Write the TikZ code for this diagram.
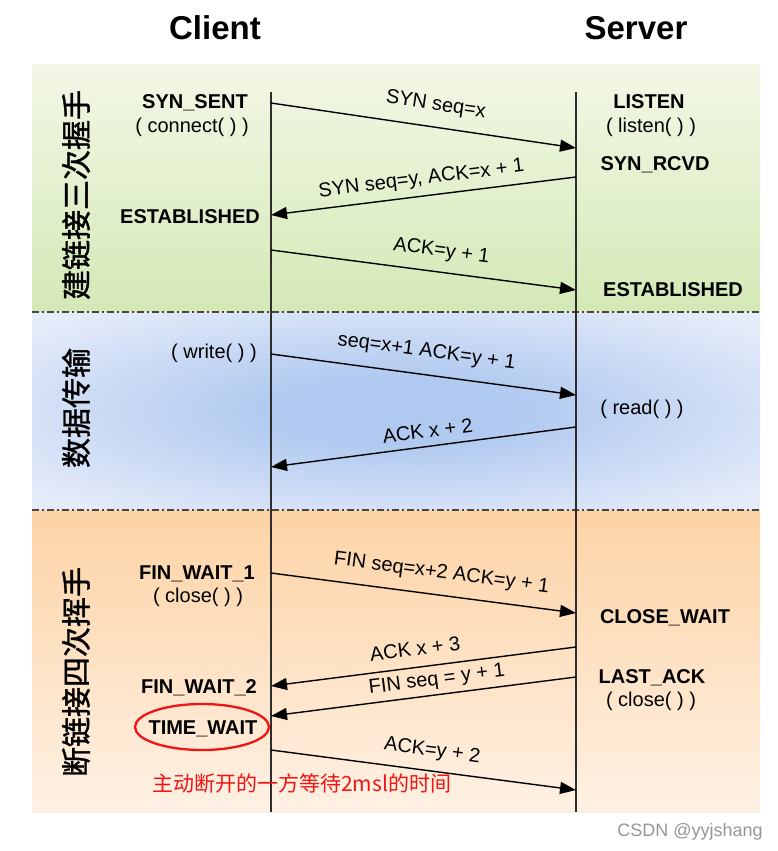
\documentclass[tikz,border=0pt]{standalone}
\usepackage{fontspec}
\setmainfont{Liberation Sans}
\newfontfamily\cjk{Noto Sans CJK SC}
\newfontfamily\cjkm[FakeBold=1.3]{Noto Sans CJK SC}
\usetikzlibrary{arrows.meta}
\definecolor{gtop}{RGB}{243,247,230}
\definecolor{gbot}{RGB}{212,233,182}
\definecolor{bin}{RGB}{176,201,240}
\definecolor{bout}{RGB}{228,235,249}
\definecolor{otop}{RGB}{253,211,165}
\definecolor{obot}{RGB}{254,241,228}
\definecolor{lifec}{RGB}{45,45,45}
\definecolor{sepc}{RGB}{70,70,70}
\definecolor{wm}{RGB}{150,150,150}
\definecolor{redc}{RGB}{240,20,20}
\pgfdeclareradialshading{bluerad}{\pgfpoint{0bp}{0bp}}{color(0bp)=(bin); color(8bp)=(bin); color(32bp)=(bout); color(50bp)=(bout)}
\tikzset{
  title/.style={font=\fontsize{33}{38}\selectfont\bfseries, inner sep=0pt},
  st/.style={font=\fontsize{20}{24}\selectfont\bfseries, inner sep=0pt, text height=14.3pt, text depth=0pt},
  fn/.style={font=\fontsize{20}{24}\selectfont, inner sep=0pt, text height=14.3pt, text depth=0pt},
  lab/.style={font=\fontsize{20}{24}\selectfont, inner sep=0pt, text height=14.5pt, text depth=4pt, sloped},
  msg/.style={line width=1.4pt, black, -{Triangle[length=16pt, width=12pt]}},
  lifeline/.style={line width=1.5pt, lifec},
  sep/.style={line width=1.3pt, sepc, dash pattern=on 7pt off 3pt on 2pt off 3pt},
  phase/.style={font=\cjkm\fontsize{30}{34}\selectfont, rotate=90, inner sep=0pt},
  redring/.style={draw=redc, line width=2.3pt},
}
\begin{document}
\begin{tikzpicture}[x=1pt, y=-1pt]
\path[use as bounding box, fill=white] (0,0) rectangle (778,851);
% bands
\shade[top color=gtop, bottom color=gbot] (32,65) rectangle (760,312);
\shade[shading=bluerad] (32,312) rectangle (760,510);
\shade[top color=otop, bottom color=obot] (32,510) rectangle (760,812);
% separators
\coordinate (sepAl) at (32,312); \coordinate (sepAr) at (760,312);
\coordinate (sepBl) at (32,510); \coordinate (sepBr) at (760,510);
\draw[sep] (sepAl) -- (sepAr);
\draw[sep] (sepBl) -- (sepBr);
% titles
\node[title] (client) at (215,28) {Client};
\node[title] (server) at (636,28) {Server};
% lifelines
\coordinate (ctop) at (271,92); \coordinate (cbot) at (271,812);
\coordinate (stop) at (576,92); \coordinate (sbot) at (576,812);
\draw[lifeline] (ctop) -- (cbot);
\draw[lifeline] (stop) -- (sbot);
% phase labels
\node[phase] (p1) at (76,195) {建链接三次握手};
\node[phase] (p2) at (76,408) {数据传输};
\node[phase] (p3) at (76,672) {断链接四次挥手};
% client states
\node[st] (synsent) at (195,101) {SYN\_SENT};
\node[fn] (connect) at (192,125) {( connect( ) )};
\node[st] (cest) at (190,216) {ESTABLISHED};
\node[fn] (write) at (214,351) {( write( ) )};
\node[st] (fw1) at (197,572) {FIN\_WAIT\_1};
\node[fn] (cclose) at (198,595) {( close( ) )};
\node[st] (fw2) at (199,686) {FIN\_WAIT\_2};
\node[st] (tw) at (203,727) {TIME\_WAIT};
\draw[redring] (202,727) ellipse [x radius=67, y radius=23];
% server states
\node[st] (listen) at (649,101) {LISTEN};
\node[fn] (listenf) at (651,125) {( listen( ) )};
\node[st] (synrcvd) at (655,163) {SYN\_RCVD};
\node[st] (sest) at (673,289) {ESTABLISHED};
\node[fn] (read) at (642,407) {( read( ) )};
\node[st] (closewait) at (665,616) {CLOSE\_WAIT};
\node[st] (lastack) at (652,676) {LAST\_ACK};
\node[fn] (sclose) at (651,699) {( close( ) )};
% message endpoints
\coordinate (c1) at (271,103); \coordinate (s1) at (576,148);
\coordinate (s2) at (576,177); \coordinate (c2) at (271,215);
\coordinate (c3) at (271,250); \coordinate (s3) at (576,290);
\coordinate (c4) at (271,354); \coordinate (s4) at (576,395);
\coordinate (s5) at (576,427); \coordinate (c5) at (271,467);
\coordinate (c6) at (271,573); \coordinate (s6) at (576,613);
\coordinate (s7) at (576,647); \coordinate (c7) at (271,686);
\coordinate (s8) at (576,677); \coordinate (c8) at (271,716);
\coordinate (c9) at (271,750); \coordinate (s9) at (576,790);
% messages
\draw[msg] (c1) -- node[lab, pos=.53, above=12pt] {SYN seq=x} (s1);
\draw[msg] (s2) -- node[lab, pos=.50, above=7pt] {SYN seq=y, ACK=x + 1} (c2);
\draw[msg] (c3) -- node[lab, pos=.55, above=11pt] {ACK=y + 1} (s3);
\draw[msg] (c4) -- node[lab, pos=.50, above=13pt] {seq=x+1 ACK=y + 1} (s4);
\draw[msg] (s5) -- node[lab, pos=.48, above=4pt] {ACK x + 2} (c5);
\draw[msg] (c6) -- node[lab, pos=.55, above=12pt] {FIN seq=x+2 ACK=y + 1} (s6);
\draw[msg] (s7) -- node[lab, pos=.52, above=7pt] {ACK x + 3} (c7);
\draw[msg] (s8) -- node[lab, pos=.45, above=5pt] {FIN seq = y + 1} (c8);
\draw[msg] (c9) -- node[lab, pos=.52, above=10pt] {ACK=y + 2} (s9);
% note
\node[anchor=west, inner sep=0pt, text=redc, font=\cjk\fontsize{21}{24}\selectfont] (note) at (152,783) {主动断开的一方等待2msl的时间};
\node[inner sep=0pt, text=wm, font=\fontsize{18}{20}\selectfont] (wmark) at (690,832) {CSDN @yyjshang};
\end{tikzpicture}
\end{document}
